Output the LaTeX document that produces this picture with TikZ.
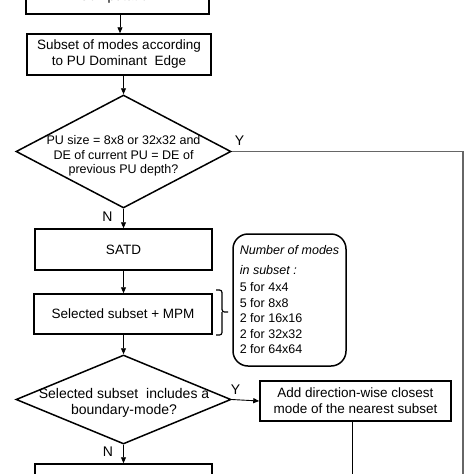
\documentclass[tikz,border=0pt]{standalone}
\usepackage{fontspec}
\setmainfont{Liberation Sans}
\usetikzlibrary{arrows.meta,shapes.geometric}
\begin{document}
\begin{tikzpicture}[x=1pt,y=-1pt,
  boxnode/.style={draw,line width=1.5pt,rectangle,inner sep=0pt,align=center,
    font=\fontsize{13.5}{16}\selectfont},
  decision/.style={draw,line width=1.5pt,diamond,inner sep=0pt},
  dtext/.style={align=center,inner sep=0pt},
  conn/.style={line width=0.9pt,-{Triangle[length=6pt,width=5pt]}},
  plain/.style={line width=0.9pt},
  grayline/.style={line width=1.3pt,draw=black!60},
  lbl/.style={font=\fontsize{14}{16}\selectfont,inner sep=0pt},
  notebox/.style={draw,line width=1.5pt,rounded corners=15pt,inner sep=0pt,align=left,
    font=\fontsize{12.5}{15.5}\selectfont}
]
\useasboundingbox (0,0) rectangle (474,474);
% boxes
\node[boxnode,minimum width=183pt,minimum height=41pt] (b1) at (117.5,-6.5) {~\\Computation};
\node[boxnode,minimum width=184pt,minimum height=41pt] (b2) at (119,54.5)
  {Subset of modes according\\to PU Dominant\ \ Edge};
\node[decision,minimum width=215pt,minimum height=113pt] (d1) at (123.5,151.5) {};
\node[dtext,font=\fontsize{12.5}{14.5}\selectfont] (d1t) at (123.5,156)
  {PU size = 8x8 or 32x32 and\\DE of current PU = DE of\\previous PU depth?};
\node[boxnode,minimum width=177pt,minimum height=41pt] (satd) at (123.5,249.5) {SATD};
\node[boxnode,minimum width=178pt,minimum height=40pt] (sel) at (123,314) {Selected subset + MPM};
\node[notebox,minimum width=113pt,minimum height=132pt] (note) at (289.5,300)
  {{\itshape Number of modes}\\[4.5pt]{\itshape in subset :}\\[1.5pt]5 for 4x4\\5 for 8x8\\2 for 16x16\\2 for 32x32\\2 for 64x64};
\node[decision,minimum width=215pt,minimum height=89pt] (d2) at (123.5,399.5) {};
\node[dtext,font=\fontsize{14}{16}\selectfont] (d2t) at (124,403)
  {Selected subset\ \ includes a\\boundary-mode?};
\node[boxnode,minimum width=191pt,minimum height=40pt] (add) at (355.5,401)
  {Add direction-wise closest\\mode of the nearest subset};
\node[boxnode,minimum width=177pt,minimum height=41pt] (b7) at (123.5,484.5) {};
% labels
\node[lbl] (y1) at (239.5,141) {Y};
\node[lbl] (n1) at (107.5,217) {N};
\node[lbl] (y2) at (235.5,390) {Y};
\node[lbl] (n2) at (108,452) {N};
% coordinates
\coordinate (r1) at (463,480);
\coordinate (r2) at (352,480);
% connectors
\draw[conn] (b1.south -| 120,0) -- (b2.north -| 120,0);
\draw[conn] (b2.south -| d1.north) -- (d1.north);
\draw[conn] (d1.south) -- (satd.north -| d1.south);
\draw[conn] (satd.south -| d1.south) -- (sel.north -| d1.south);
\draw[conn] (sel.south -| d2.north) -- (d2.north);
\draw[conn] (d2.south) -- (b7.north -| d2.south);
\draw[conn] (d2.east) -- (add.west);
\draw[grayline] (d1.east) -| (r1);
\draw[plain] (add.south -| r2) -- (r2);
% bracket
\draw[line width=1.2pt,rounded corners=2.5pt] (216,290) -- (222,290) -- (222,312) -- (228,312);
\draw[line width=1.2pt,rounded corners=2.5pt] (216,335) -- (222,335) -- (222,312);
\end{tikzpicture}
\end{document}
